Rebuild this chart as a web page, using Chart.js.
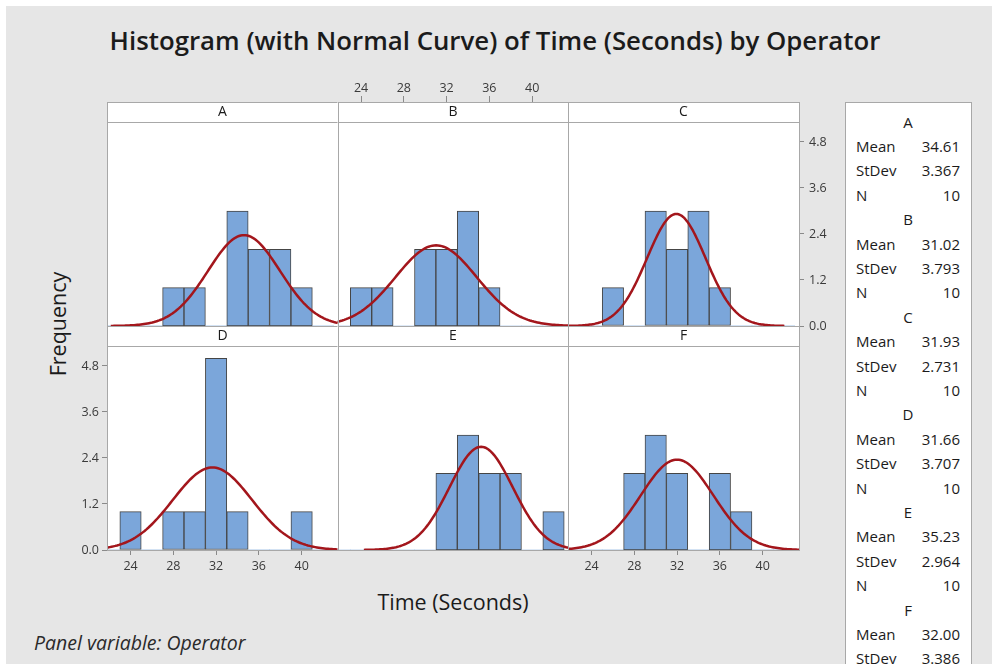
<!DOCTYPE html>
<html>
<head>
<meta charset="utf-8">
<title>Histogram of Time by Operator</title>
<script src="https://cdn.jsdelivr.net/npm/chart.js@4.4.1/dist/chart.umd.min.js"></script>
<style>
  html, body { margin: 0; padding: 0; background: #fff; }
  body { width: 995px; height: 664px; overflow: hidden; position: relative;
         font-family: "Open Sans", "Noto Sans", sans-serif; color: #1b1b1b; }
  #frame { position: absolute; left: 6px; top: 6px; width: 986px; height: 680px; background: #e6e6e6; }
  canvas.panel { position: absolute; left: 0; top: 0; }
  .txt { position: absolute; white-space: nowrap; line-height: 1; }
  #title { left: 0; width: 990px; top: 28px; text-align: center; font-size: 25.8px; font-weight: 600; }
  #ylabel { left: 58px; top: 324px; font-size: 21.5px;
            transform: translate(-50%, -50%) rotate(-90deg); }
  #xlabel { left: 453px; top: 602px; font-size: 21.5px; transform: translate(-50%, -50%); }
  #panelvar { left: 34px; top: 643px; font-size: 19.5px; font-style: italic; transform: translateY(-50%); color: #2a2a2a; }
  #stats { position: absolute; left: 845px; top: 102px; width: 125px; height: 620px;
           background: #fff; border: 1px solid #a8a8a8; font-size: 15px; }
  #stats .row { position: absolute; left: 10px; width: 104px; transform: translateY(-50%); line-height: 1; }
  #stats .head { text-align: center; }
  #stats .val { position: absolute; right: 0; top: 0; }
</style>
</head>
<body>
<div id="frame"></div>
<div class="txt" id="title">Histogram (with Normal Curve) of Time (Seconds) by Operator</div>
<div class="txt" id="ylabel">Frequency</div>
<div class="txt" id="xlabel">Time (Seconds)</div>
<div class="txt" id="panelvar">Panel variable: Operator</div>
<div id="stats"></div>

<script>
// Operators and histogram bins (bin width 2, centred on even seconds)
const operators = ['A', 'B', 'C', 'D', 'E', 'F'];
const binCentres = [22, 24, 26, 28, 30, 32, 34, 36, 38, 40, 42];
const countsA = [0, 0, 0, 1, 1, 0, 3, 2, 2, 1, 0];
const countsB = [0, 1, 1, 0, 2, 2, 3, 1, 0, 0, 0];
const countsC = [0, 0, 1, 0, 3, 2, 3, 1, 0, 0, 0];
const countsD = [0, 1, 0, 1, 1, 5, 1, 0, 0, 1, 0];
const countsE = [0, 0, 0, 0, 0, 2, 3, 2, 2, 0, 1];
const countsF = [0, 0, 0, 2, 3, 2, 0, 2, 1, 0, 0];

// Summary statistics per operator
const means = [34.61, 31.02, 31.93, 31.66, 35.23, 32.00];
const stdevs = [3.367, 3.793, 2.731, 3.707, 2.964, 3.386];
const sampleSizes = [10, 10, 10, 10, 10, 10];

// Axis ticks
const xTicks = [24, 28, 32, 36, 40];
const yTicks = [0, 1.2, 2.4, 3.6, 4.8];

const allCounts = [countsA, countsB, countsC, countsD, countsE, countsF];

const BIN_WIDTH = 2;
const X_MIN = 21.8, X_MAX = 43.4;
const Y_MAX = 5.32;

// panel grid geometry
const PAGE_W = 995, PAGE_H = 664;
const COL_LEFT = [107, 337.5, 568];
const PANEL_W = 231;
const ROW_TOP = [122, 346];
const PANEL_H = 204;
const HEADER_H = 20;

// room reserved for each visible axis (labels are clipped to this box)
const Y_AXIS_W = 45;
const X_AXIS_H = 30;
const X_TOP_AXIS_H = 48;

const FRAME_COLOR = '#a8a8a8';
const TICK_COLOR = '#3a3a3a';
const BAR_FILL = 'rgb(123,166,218)';
const BAR_EDGE = '#454545';
const CURVE_COLOR = '#a3161c';

// which axes each panel shows
const axisSides = {
  A: {},
  B: { x: 'top' },
  C: { y: 'right' },
  D: { x: 'bottom', y: 'left' },
  E: {},
  F: { x: 'bottom' }
};

// fitted normal curve scaled to counts: n * binWidth * pdf(x)
function normalCurve(mean, sd, n) {
  const pts = [];
  const lo = mean - 3.7 * sd, hi = mean + 3.7 * sd;
  const steps = 160;
  for (let i = 0; i <= steps; i++) {
    const x = lo + (hi - lo) * i / steps;
    const z = (x - mean) / sd;
    pts.push({ x: x, y: n * BIN_WIDTH * Math.exp(-z * z / 2) / (sd * Math.sqrt(2 * Math.PI)) });
  }
  return pts;
}

// white plot area, header strip with operator letter, grey frame
const panelFrame = {
  id: 'panelFrame',
  beforeDraw(chart) {
    const a = chart.chartArea, ctx = chart.ctx;
    ctx.save();
    ctx.fillStyle = '#fff';
    ctx.fillRect(a.left, a.top, a.width, a.height);
    ctx.restore();
  },
  afterDraw(chart, args, opts) {
    const a = chart.chartArea, ctx = chart.ctx;
    ctx.save();
    ctx.fillStyle = '#fff';
    ctx.fillRect(a.left, a.top - HEADER_H, a.width, HEADER_H);
    ctx.strokeStyle = FRAME_COLOR;
    ctx.lineWidth = 1;
    ctx.strokeRect(Math.round(a.left) + 0.5, Math.round(a.top - HEADER_H) + 0.5, Math.round(a.width), HEADER_H);
    ctx.strokeRect(Math.round(a.left) + 0.5, Math.round(a.top) + 0.5, Math.round(a.width), Math.round(a.height));
    ctx.fillStyle = '#1b1b1b';
    ctx.font = '14px "Open Sans"';
    ctx.textAlign = 'center';
    ctx.textBaseline = 'middle';
    ctx.fillText(opts.label, (a.left + a.right) / 2, a.top - HEADER_H / 2);
    ctx.restore();
  }
};

function xAxis(side) {
  const top = side === 'top';
  return {
    type: 'linear',
    position: top ? 'top' : 'bottom',
    display: !!side,
    min: X_MIN,
    max: X_MAX,
    offset: false,
    afterBuildTicks: s => { s.ticks = xTicks.map(v => ({ value: v })); },
    afterFit: s => { s.height = side ? (top ? X_TOP_AXIS_H : X_AXIS_H) : 0; },
    grid: {
      offset: false,
      drawOnChartArea: false,
      drawTicks: true,
      // top ticks start at the plot edge and show above the header strip
      tickLength: top ? HEADER_H + 6 : 5,
      color: '#8a8a8a'
    },
    border: { display: false },
    ticks: {
      color: TICK_COLOR,
      padding: top ? 0 : 4,
      maxRotation: 0,
      autoSkip: false,
      font: { family: 'Open Sans', size: 12.5 },
      callback: v => String(v)
    }
  };
}

function yAxis(side) {
  return {
    type: 'linear',
    position: side === 'right' ? 'right' : 'left',
    display: !!side,
    min: 0,
    max: Y_MAX,
    afterBuildTicks: s => { s.ticks = yTicks.map(v => ({ value: v })); },
    afterFit: s => { s.width = side ? Y_AXIS_W : 0; },
    grid: { drawOnChartArea: false, drawTicks: true, tickLength: 5, color: '#8a8a8a' },
    border: { display: false },
    ticks: {
      color: TICK_COLOR,
      padding: side === 'right' ? 5 : 3,
      autoSkip: false,
      font: { family: 'Open Sans', size: 12.5 },
      callback: v => v.toFixed(1)
    }
  };
}

operators.forEach((op, i) => {
  const col = i % 3, row = Math.floor(i / 3);
  const left = COL_LEFT[col], top = ROW_TOP[row];
  const canvas = document.createElement('canvas');
  canvas.className = 'panel';
  canvas.width = PAGE_W;
  canvas.height = PAGE_H;
  document.body.appendChild(canvas);

  const sides = axisSides[op];
  const counts = allCounts[i];

  // layout padding leaves exactly the axis boxes around the plot area
  const padLeft = left - (sides.y === 'left' ? Y_AXIS_W : 0);
  const padRight = PAGE_W - left - PANEL_W - (sides.y === 'right' ? Y_AXIS_W : 0);
  const padTop = top - (sides.x === 'top' ? X_TOP_AXIS_H : 0);
  const padBottom = PAGE_H - top - PANEL_H - (sides.x === 'bottom' ? X_AXIS_H : 0);

  new Chart(canvas.getContext('2d'), {
    type: 'bar',
    data: {
      datasets: [
        {
          type: 'line',
          label: 'Normal',
          data: normalCurve(means[i], stdevs[i], sampleSizes[i]),
          borderColor: CURVE_COLOR,
          borderWidth: 2.5,
          pointRadius: 0,
          tension: 0,
          fill: false,
          order: 0
        },
        {
          type: 'bar',
          label: op,
          data: binCentres.map((c, k) => ({ x: c, y: counts[k] })),
          backgroundColor: BAR_FILL,
          borderColor: BAR_EDGE,
          borderWidth: ctx => (ctx.raw && ctx.raw.y > 0 ? 1 : 0),
          borderSkipped: false,
          barPercentage: 1,
          categoryPercentage: 1,
          order: 1
        }
      ]
    },
    options: {
      responsive: false,
      animation: false,
      devicePixelRatio: 1,
      layout: {
        autoPadding: false,
        padding: { left: padLeft, top: padTop, right: padRight, bottom: padBottom }
      },
      scales: {
        x: xAxis(sides.x),
        y: yAxis(sides.y)
      },
      plugins: {
        legend: { display: false },
        tooltip: { enabled: false },
        panelFrame: { label: op }
      }
    },
    plugins: [panelFrame]
  });
});

// statistics box on the right
const stats = document.getElementById('stats');
const LINE_PITCH = 24.4;
let line = 0;
function addRow(html, cls) {
  const d = document.createElement('div');
  d.className = 'row ' + (cls || '');
  d.style.top = (18.5 + line * LINE_PITCH) + 'px';
  d.innerHTML = html;
  stats.appendChild(d);
  line++;
}
operators.forEach((op, i) => {
  addRow(op, 'head');
  addRow('Mean<span class="val">' + means[i].toFixed(2) + '</span>');
  addRow('StDev<span class="val">' + stdevs[i].toFixed(3) + '</span>');
  addRow('N<span class="val">' + sampleSizes[i] + '</span>');
});
</script>
</body>
</html>
